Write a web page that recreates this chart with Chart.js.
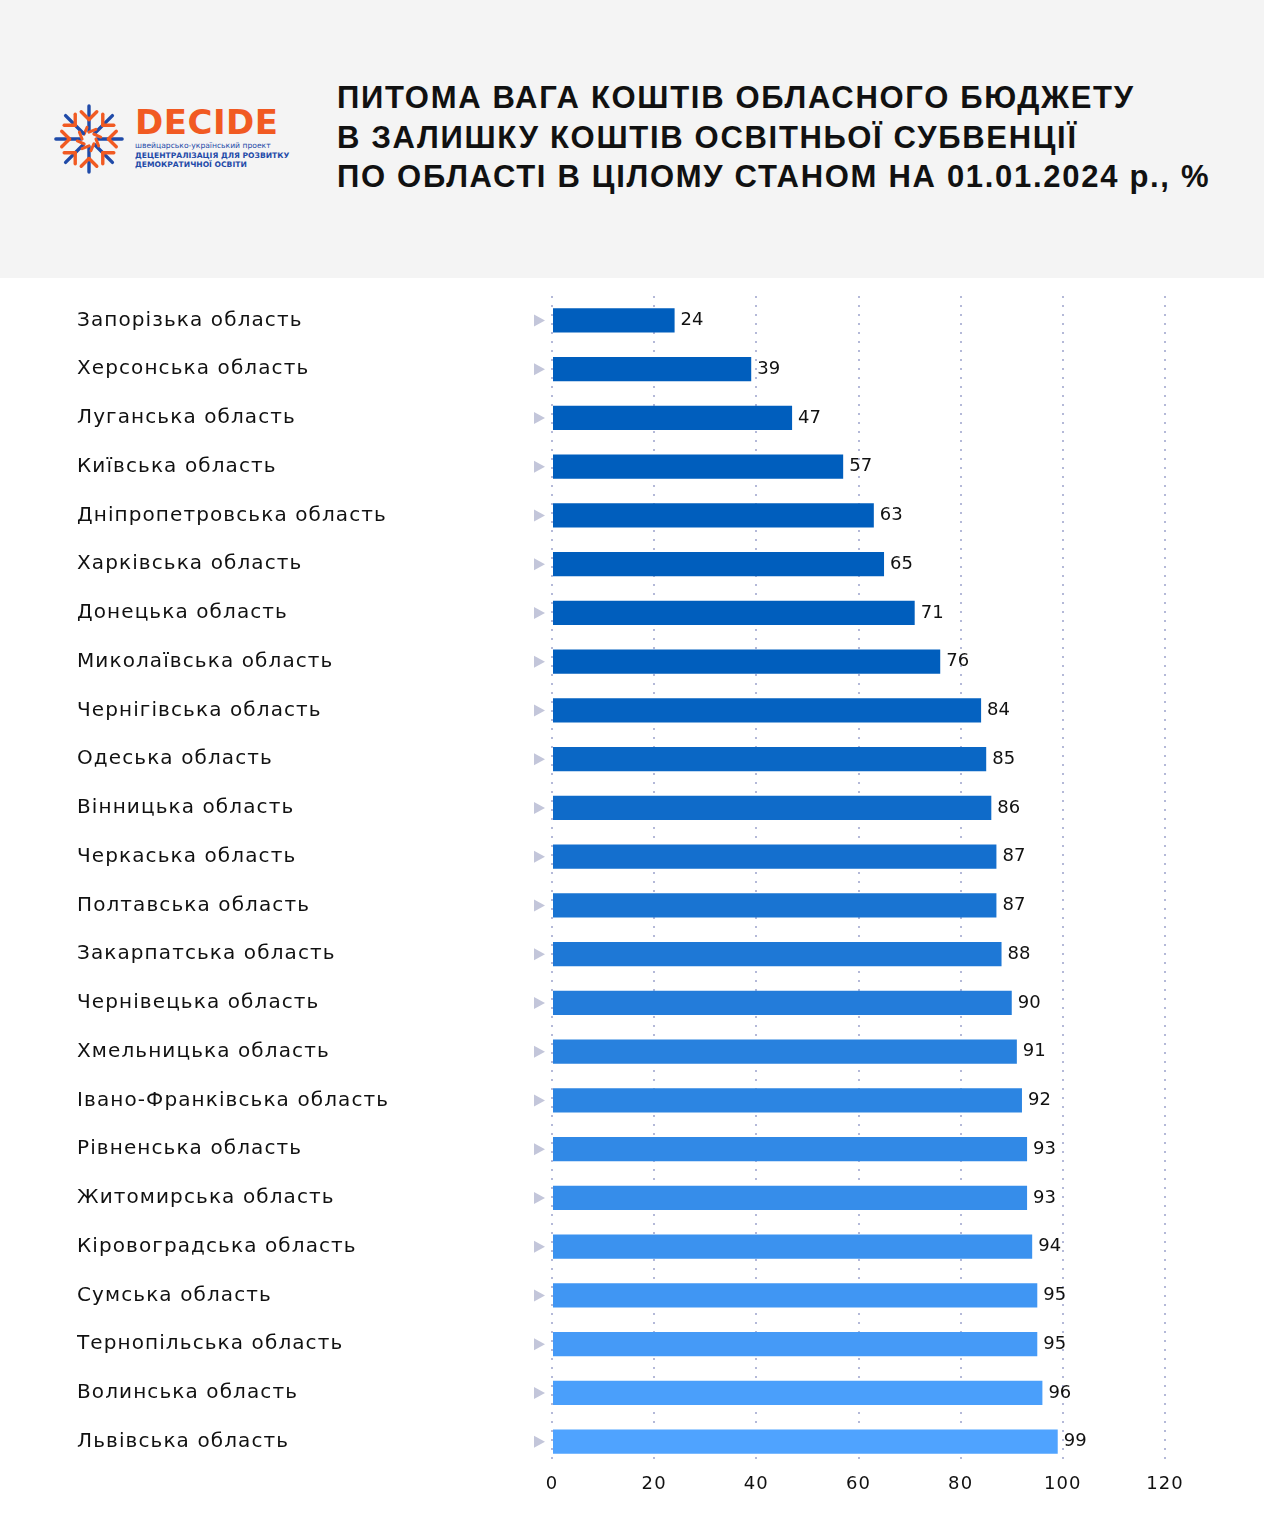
<!DOCTYPE html>
<html>
<head>
<meta charset="utf-8">
<script src="https://cdn.jsdelivr.net/npm/chart.js@4.4.0/dist/chart.umd.min.js"></script>
<style>
  body { margin: 0; width: 1264px; height: 1536px; background: #fff; font-family: "DejaVu Sans", sans-serif; }
  .header { position: absolute; left: 0; top: 0; width: 1264px; height: 278px; background: #f4f4f4; }
  .title { position: absolute; left: 337px; top: 78px; font-family: "Liberation Sans", Arial, sans-serif; font-weight: bold; font-size: 31px; line-height: 39.5px; color: #111; letter-spacing: 1.7px; white-space: nowrap; }
  .logo { position: absolute; left: 52px; top: 102px; }
  .brand { position: absolute; left: 135px; top: 103px; font-family: "DejaVu Sans", sans-serif; }
  .brand .big { font-size: 34px; font-weight: bold; color: #f15a22; letter-spacing: 0.5px; line-height: 38px; }
  .brand .small { font-size: 7.6px; color: #1f4aa8; line-height: 9.5px; white-space: nowrap; }
  .brand .small b { font-weight: bold; }
  .wrap { position: absolute; left: 0; top: 278px; width: 1264px; height: 1258px; }
</style>
</head>
<body>
<div class="header"></div>
<svg class="logo" width="74" height="74" viewBox="-38 -38 76 76" id="flake"></svg>
<div class="brand">
  <div class="big">DECIDE</div>
  <div class="small">швейцарсько-український проект</div>
  <div class="small"><b>ДЕЦЕНТРАЛІЗАЦІЯ ДЛЯ РОЗВИТКУ</b></div>
  <div class="small"><b>ДЕМОКРАТИЧНОЇ ОСВІТИ</b></div>
</div>
<div class="title">ПИТОМА ВАГА КОШТІВ ОБЛАСНОГО БЮДЖЕТУ<br>В ЗАЛИШКУ КОШТІВ ОСВІТНЬОЇ СУБВЕНЦІЇ<br>ПО ОБЛАСТІ В ЦІЛОМУ СТАНОМ НА 01.01.2024 р., %</div>
<div class="wrap"><canvas id="chart" width="1264" height="1258"></canvas></div>
<script>
// logo snowflake (decorative)
const flake = document.getElementById("flake");
let svg = "";
for (let k = 0; k < 8; k++) {
  const a = k * 45;
  svg += '<g transform="rotate(' + a + ')">' +
    '<line x1="0" y1="-8" x2="0" y2="-34" stroke="#1f4aa8" stroke-width="3.5" stroke-linecap="round"/>' +
    '<line x1="0" y1="-20" x2="-8" y2="-28" stroke="#f15a22" stroke-width="3.5" stroke-linecap="round"/>' +
    '<line x1="0" y1="-20" x2="8" y2="-28" stroke="#f15a22" stroke-width="3.5" stroke-linecap="round"/>' +
    '<line x1="-5" y1="-5" x2="-2" y2="-12" stroke="#f15a22" stroke-width="3" stroke-linecap="round"/>' +
    '</g>';
}
flake.innerHTML = svg;

const regions = [
  "Запорізька область", "Херсонська область", "Луганська область", "Київська область",
  "Дніпропетровська область", "Харківська область", "Донецька область", "Миколаївська область",
  "Чернігівська область", "Одеська область", "Вінницька область", "Черкаська область",
  "Полтавська область", "Закарпатська область", "Чернівецька область", "Хмельницька область",
  "Івано-Франківська область", "Рівненська область", "Житомирська область", "Кіровоградська область",
  "Сумська область", "Тернопільська область", "Волинська область", "Львівська область"
];
const shares = [24, 39, 47, 57, 63, 65, 71, 76, 84, 85, 86, 87, 87, 88, 90, 91, 92, 93, 93, 94, 95, 95, 96, 99];
const xTicks = [0, 20, 40, 60, 80, 100, 120];

function barColor(i) {
  const from = [0, 94, 189], to = [79, 163, 255];
  const t = i < 7 ? 0 : (i - 7) / 16;
  const c = from.map((v, k) => Math.round(v + (to[k] - v) * t));
  return "rgb(" + c.join(",") + ")";
}

// wider tracking for the region names
const spacing = {
  id: "spacing",
  beforeDraw(chart) {
    chart.ctx.letterSpacing = "1.1px";
  },
  beforeDatasetsDraw(chart) {
    chart.ctx.letterSpacing = "0px";
  },
};

const rowMarks = {
  id: "rowMarks",
  afterDatasetsDraw(chart) {
    const ctx = chart.ctx;
    const ys = chart.scales.y;
    const meta = chart.getDatasetMeta(0);
    ctx.save();
    regions.forEach((r, i) => {
      const y = ys.getPixelForValue(i);
      ctx.fillStyle = "#c3c6da";
      ctx.beginPath();
      ctx.moveTo(534, y - 6);
      ctx.lineTo(545, y);
      ctx.lineTo(534, y + 6);
      ctx.closePath();
      ctx.fill();
      const bar = meta.data[i];
      ctx.fillStyle = "#111";
      ctx.font = "18px 'DejaVu Sans', sans-serif";
      ctx.textAlign = "left";
      ctx.textBaseline = "middle";
      ctx.fillText(String(shares[i]), bar.x + 6, y);
    });
    ctx.restore();
  }
};

new Chart(document.getElementById("chart"), {
  type: "bar",
  data: {
    labels: regions,
    datasets: [
      {
        data: shares,
        backgroundColor: shares.map((v, i) => barColor(i)),
        borderWidth: 0,
        barPercentage: 0.5,
        categoryPercentage: 1,
      },
    ],
  },
  options: {
    indexAxis: "y",
    responsive: false,
    animation: false,
    layout: {
      padding: { left: 77, right: 99, top: 18, bottom: 30 },
    },
    plugins: {
      legend: { display: false },
      tooltip: { enabled: false },
    },
    scales: {
      x: {
        min: 0,
        max: 120,
        afterBuildTicks: (scale) => {
          scale.ticks = xTicks.map((v) => ({ value: v }));
        },
        afterFit: (scale) => {
          scale.height = 40;
        },
        ticks: {
          color: "#111",
          padding: 8,
          font: { size: 18, family: "'DejaVu Sans', sans-serif" },
        },
        grid: {
          color: "#b4b9d8",
          lineWidth: 2,
          drawTicks: false,
        },
        border: { display: false, dash: [2, 7] },
      },
      y: {
        afterFit: (scale) => {
          scale.width = 475;
        },
        ticks: {
          crossAlign: "far",
          color: "#111",
          padding: 0,
          font: { size: 20, family: "'DejaVu Sans', sans-serif" },
        },
        grid: { display: false, drawTicks: false },
        border: { display: false },
      },
    },
  },
  plugins: [spacing, rowMarks],
});
</script>
</body>
</html>
